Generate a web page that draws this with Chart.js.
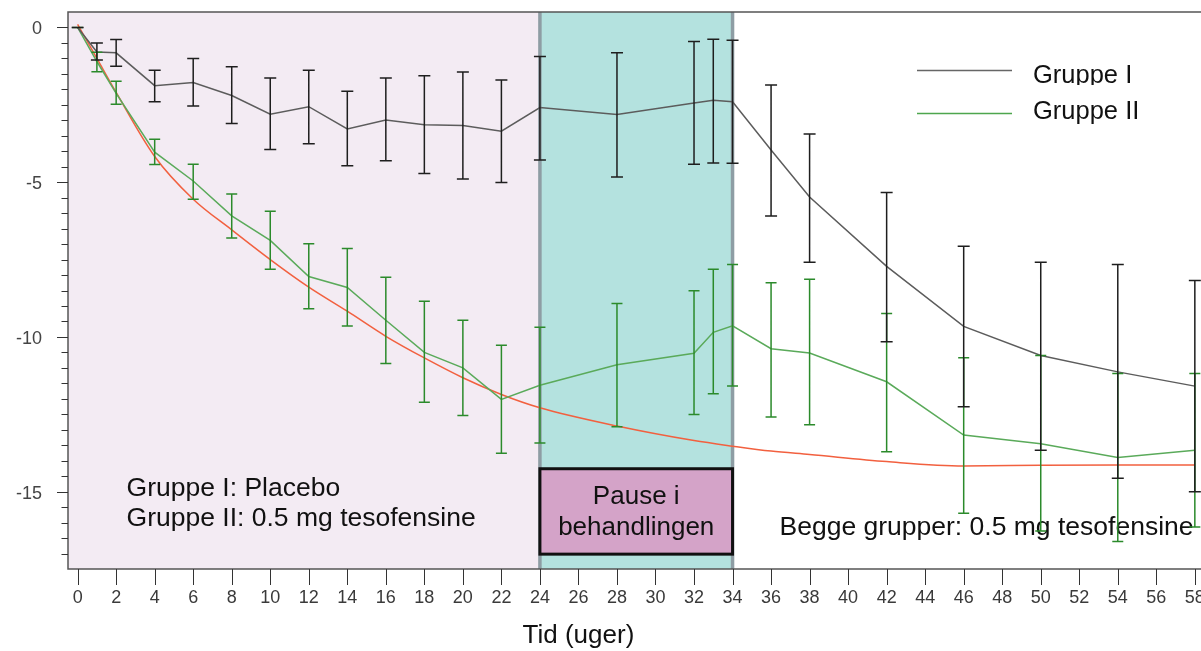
<!DOCTYPE html>
<html lang="da">
<head>
<meta charset="utf-8">
<title>Vægttab over tid</title>
<script src="https://cdn.jsdelivr.net/npm/chart.js@4.4.1/dist/chart.umd.min.js"></script>
<style>
  html, body { margin: 0; padding: 0; background: #fff; }
  #wrap { width: 1201px; height: 651px; }
</style>
</head>
<body>
<div id="wrap"><canvas id="myChart" width="1201" height="651"></canvas></div>
<script>
// Måletidspunkter (uger)
const uger = [0, 1, 2, 4, 6, 8, 10, 12, 14, 16, 18, 20, 22, 24, 28, 32, 33, 34, 36, 38, 42, 46, 50, 54, 58];

// Gruppe I (placebo, derefter tesofensine) - middel og fejlgrænser
const gruppeI    = [0, -0.79, -0.82, -1.88, -1.78, -2.2, -2.8, -2.56, -3.28, -2.99, -3.14, -3.17, -3.35, -2.59, -2.81, -2.44, -2.35, -2.4, -3.96, -5.48, -7.72, -9.66, -10.6, -11.13, -11.59];
const gruppeIHoj = [0, -0.5, -0.39, -1.38, -1.0, -1.27, -1.63, -1.38, -2.06, -1.63, -1.56, -1.44, -1.7, -0.94, -0.82, -0.45, -0.38, -0.41, -1.86, -3.44, -5.33, -7.07, -7.59, -7.66, -8.18];
const gruppeILav = [0, -1.05, -1.25, -2.4, -2.54, -3.1, -3.94, -3.76, -4.47, -4.31, -4.72, -4.9, -5.01, -4.28, -4.83, -4.42, -4.38, -4.39, -6.09, -7.59, -10.16, -12.26, -13.66, -14.57, -15.0];

// Gruppe II (0.5 mg tesofensine)
const gruppeII    = [0, -1.1, -2.13, -4.03, -4.96, -6.09, -6.88, -8.05, -8.4, -9.46, -10.5, -11.0, -12.02, -11.56, -10.9, -10.53, -9.85, -9.64, -10.38, -10.52, -11.45, -13.17, -13.45, -13.9, -13.66];
const gruppeIIHoj = [0, -0.8, -1.74, -3.61, -4.42, -5.38, -5.94, -6.99, -7.14, -8.07, -8.85, -9.46, -10.27, -9.69, -8.92, -8.51, -7.81, -7.66, -8.25, -8.14, -9.24, -10.67, -10.6, -11.18, -11.18];
const gruppeIILav = [0, -1.43, -2.48, -4.43, -5.55, -6.8, -7.81, -9.09, -9.65, -10.86, -12.11, -12.54, -13.76, -13.43, -12.9, -12.51, -11.84, -11.59, -12.59, -12.84, -13.71, -15.7, -16.27, -16.61, -16.14];

// Tilpasset kurve (rød)
const kurveUger  = [0, 1, 2, 4, 6, 8, 10, 12, 14, 16, 18, 20, 22, 24, 28, 32, 34, 36, 38, 42, 46, 50, 54, 58];
const kurveVaerdi = [0.1, -1.0, -2.1, -4.17, -5.55, -6.54, -7.5, -8.39, -9.17, -9.98, -10.68, -11.32, -11.86, -12.29, -12.88, -13.35, -13.53, -13.69, -13.8, -14.03, -14.17, -14.15, -14.14, -14.14];

// Akser
const xTicks = [0, 2, 4, 6, 8, 10, 12, 14, 16, 18, 20, 22, 24, 26, 28, 30, 32, 34, 36, 38, 40, 42, 44, 46, 48, 50, 52, 54, 56, 58];
const yTicks = [0, -5, -10, -15];

// Behandlingspause
const pauseStart = 24;
const pauseSlut = 34;

const font = "'Liberation Sans', Arial, sans-serif";

function punkter(xs, ys) {
    return xs.map((u, i) => ({ x: u, y: ys[i] }));
}

const tegning = {
    id: 'tegning',
    beforeDraw(chart) {
        const { ctx, chartArea: a, scales: { x } } = chart;
        const x1 = x.getPixelForValue(pauseStart);
        const x2 = x.getPixelForValue(pauseSlut);
        ctx.save();
        ctx.fillStyle = '#f3ebf3';
        ctx.fillRect(a.left, a.top, x1 - a.left, a.bottom - a.top);
        ctx.fillStyle = '#b4e2df';
        ctx.fillRect(x1, a.top, x2 - x1, a.bottom - a.top);
        ctx.strokeStyle = '#8e9da4';
        ctx.lineWidth = 3.5;
        ctx.beginPath();
        ctx.moveTo(x1, a.top); ctx.lineTo(x1, a.bottom);
        ctx.moveTo(x2, a.top); ctx.lineTo(x2, a.bottom);
        ctx.stroke();
        ctx.restore();
    },
    beforeDatasetsDraw(chart) {
        const { ctx, chartArea: a, scales: { x, y } } = chart;
        ctx.save();
        // ramme
        ctx.strokeStyle = '#555';
        ctx.lineWidth = 1.5;
        ctx.beginPath();
        ctx.moveTo(a.right, a.top); ctx.lineTo(a.left, a.top);
        ctx.lineTo(a.left, a.bottom); ctx.lineTo(a.right, a.bottom);
        ctx.stroke();
        // y-tick streger
        ctx.strokeStyle = '#333';
        ctx.lineWidth = 1;
        ctx.beginPath();
        for (let v = 0; v >= -17.01; v -= 0.5) {
            const py = Math.round(y.getPixelForValue(v)) + 0.5;
            const len = Math.abs(v % 5) < 0.01 ? 11 : 6.5;
            ctx.moveTo(a.left - len, py); ctx.lineTo(a.left, py);
        }
        // x-tick streger
        xTicks.forEach(v => {
            const px = Math.round(x.getPixelForValue(v)) + 0.5;
            ctx.moveTo(px, a.bottom); ctx.lineTo(px, a.bottom + 16);
        });
        ctx.stroke();

        // tekster
        ctx.fillStyle = '#111';
        ctx.font = '26.5px ' + font;
        ctx.textBaseline = 'middle';
        ctx.textAlign = 'left';
        ctx.fillText('Gruppe I: Placebo', x.getPixelForValue(2.54), y.getPixelForValue(-14.92));
        ctx.fillText('Gruppe II: 0.5 mg tesofensine', x.getPixelForValue(2.54), y.getPixelForValue(-15.86));
        ctx.fillText('Begge grupper: 0.5 mg tesofensine', x.getPixelForValue(36.44), y.getPixelForValue(-16.18));

        // aksetitel
        ctx.textAlign = 'center';
        ctx.font = '26px ' + font;
        ctx.fillText('Tid (uger)', x.getPixelForValue(26), 636);
        ctx.restore();
    },
    afterDatasetsDraw(chart) {
        const { ctx, scales: { x, y } } = chart;
        ctx.save();

        // pauseboks
        const bx1 = x.getPixelForValue(pauseStart);
        const bx2 = x.getPixelForValue(pauseSlut);
        const by1 = y.getPixelForValue(-14.26);
        const by2 = y.getPixelForValue(-17.02);
        ctx.fillStyle = '#d4a3c8';
        ctx.fillRect(bx1, by1, bx2 - bx1, by2 - by1);
        ctx.strokeStyle = '#111';
        ctx.lineWidth = 3;
        ctx.strokeRect(bx1, by1, bx2 - bx1, by2 - by1);
        ctx.fillStyle = '#111';
        ctx.font = '26px ' + font;
        ctx.textAlign = 'center';
        ctx.textBaseline = 'middle';
        const mx = (bx1 + bx2) / 2;
        ctx.fillText('Pause i', mx, 497);
        ctx.fillText('behandlingen', mx, 528);

        // fejlsøjler
        const fejl = (lav, hoj, farve, cap) => {
            ctx.strokeStyle = farve;
            ctx.lineWidth = 1.5;
            ctx.beginPath();
            uger.forEach((u, i) => {
                const px = x.getPixelForValue(u);
                const p1 = y.getPixelForValue(hoj[i]);
                const p2 = y.getPixelForValue(lav[i]);
                ctx.moveTo(px, p1); ctx.lineTo(px, p2);
                ctx.moveTo(px - cap, p1); ctx.lineTo(px + cap, p1);
                ctx.moveTo(px - cap, p2); ctx.lineTo(px + cap, p2);
            });
            ctx.stroke();
        };
        fejl(gruppeIILav, gruppeIIHoj, '#2b8a2b', 5.5);
        fejl(gruppeILav, gruppeIHoj, '#1e1e1e', 6);

        // forklaring
        ctx.lineWidth = 1.5;
        ctx.strokeStyle = '#666';
        ctx.beginPath(); ctx.moveTo(917, 70.5); ctx.lineTo(1012, 70.5); ctx.stroke();
        ctx.strokeStyle = '#4ea64e';
        ctx.beginPath(); ctx.moveTo(917, 113.5); ctx.lineTo(1012, 113.5); ctx.stroke();
        ctx.fillStyle = '#111';
        ctx.font = '25.5px ' + font;
        ctx.textAlign = 'left';
        ctx.save();
        ctx.beginPath(); ctx.rect(1020, 50, 181, 35); ctx.clip();
        ctx.fillText('Gruppe I', 1033, 76);
        ctx.restore();
        ctx.fillText('Gruppe II', 1033, 112);
        ctx.restore();
    }
};

const ctx = document.getElementById('myChart').getContext('2d');
new Chart(ctx, {
    type: 'line',
    data: {
        datasets: [{
            label: 'Gruppe I',
            data: punkter(uger, gruppeI),
            borderColor: '#5c5c5c',
            borderWidth: 1.5,
            pointRadius: 0,
            tension: 0
        }, {
            label: 'Gruppe II',
            data: punkter(uger, gruppeII),
            borderColor: '#5aaa5a',
            borderWidth: 1.5,
            pointRadius: 0,
            tension: 0
        }, {
            label: 'Kurve',
            data: punkter(kurveUger, kurveVaerdi),
            borderColor: '#f2603f',
            borderWidth: 1.5,
            pointRadius: 0,
            cubicInterpolationMode: 'monotone'
        }]
    },
    options: {
        responsive: false,
        animation: false,
        devicePixelRatio: 1,
        layout: { padding: { top: 12, right: 0, left: 0, bottom: 0 } },
        plugins: {
            legend: { display: false },
            tooltip: { enabled: false }
        },
        scales: {
            x: {
                type: 'linear',
                min: -0.5,
                max: 58.32,
                grid: { display: false, drawTicks: false },
                border: { display: false },
                afterBuildTicks: s => { s.ticks = xTicks.map(v => ({ value: v })); },
                afterFit: s => { s.height = 82; s.paddingLeft = 0; s.paddingRight = 0; },
                ticks: {
                    autoSkip: false,
                    maxRotation: 0,
                    padding: 18,
                    color: '#3a3a3a',
                    font: { family: font, size: 18 }
                }
            },
            y: {
                min: -17.5,
                max: 0.5,
                grid: { display: false, drawTicks: false },
                border: { display: false },
                afterBuildTicks: s => { s.ticks = yTicks.map(v => ({ value: v })); },
                afterFit: s => { s.width = 68; s.paddingTop = 0; s.paddingBottom = 0; },
                ticks: {
                    autoSkip: false,
                    padding: 26,
                    labelOffset: 2,
                    color: '#444',
                    font: { family: font, size: 18 },
                    callback: v => String(v)
                }
            }
        }
    },
    plugins: [tegning]
});
</script>
</body>
</html>
